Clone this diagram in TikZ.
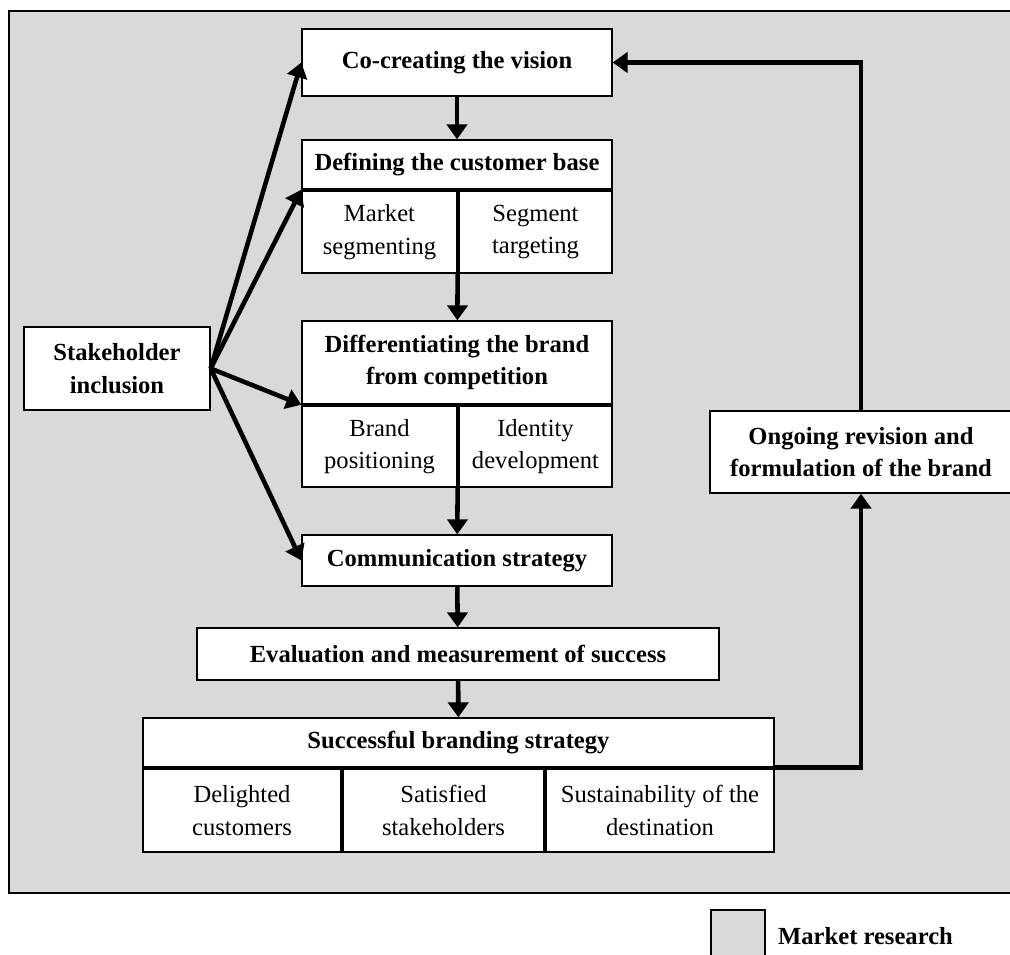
\documentclass[tikz,border=0pt]{standalone}
\usepackage{fontspec}
\setmainfont{Liberation Serif}
\usepackage{tikz}
\usetikzlibrary{arrows.meta}
\definecolor{research}{HTML}{D9D9D9}
\tikzstyle{box} =[draw, fill=white, line width=0.8pt, inner sep=0pt, align=center, font=\fontsize{14}{18.5}\selectfont]
\tikzstyle{head} =[box, font=\fontsize{14}{18.5}\selectfont\bfseries]
\tikzstyle{arrow} =[-{Triangle[length=8.5pt, width=11.5pt]}, line width=2.6pt]

\begin{document}
\begin{tikzpicture}[x=0.02cm, y=-0.02cm]
		\useasboundingbox (0,0) rectangle (1010,954);
		\draw[fill=research, line width=1.2pt] (9,11) rectangle (1014,893);
		% main column
		\node (cre)[head, minimum width=6.2cm, minimum height=1.34cm] at (457,62.5) {Co-creating the vision};
		\node (dfn)[head, minimum width=6.2cm, minimum height=0.98cm] at (457,164.5) {Defining the customer base};
		\node (msg)[box, minimum width=3.1cm, minimum height=1.64cm] at (379.5,232) {Market\\segmenting};
		\node (tgt)[box, minimum width=3.06cm, minimum height=1.64cm] at (535.5,232) {Segment\\targeting};
		\node (dif)[head, minimum width=6.2cm, minimum height=1.66cm] at (457,362.5) {Differentiating the brand\\from competition};
		\node (pos)[box, minimum width=3.1cm, minimum height=1.62cm] at (379.5,446.5) {Brand\\positioning};
		\node (idn)[box, minimum width=3.06cm, minimum height=1.62cm] at (535.5,446.5) {Identity\\development};
		\node (com)[head, minimum width=6.2cm, minimum height=1.02cm] at (457,560.5) {Communication strategy};
		\node (eva)[head, minimum width=10.44cm, minimum height=1.04cm] at (458,654) {Evaluation and measurement of success};
		\node (suc)[head, minimum width=12.62cm, minimum height=0.98cm] at (458.5,742.5) {Successful branding strategy};
		\node (dlg)[box, minimum width=3.96cm, minimum height=1.66cm] at (242,810.5) {Delighted\\customers};
		\node (sat)[box, minimum width=4.02cm, minimum height=1.66cm] at (443.5,810.5) {Satisfied\\stakeholders};
		\node (sus)[box, minimum width=4.56cm, minimum height=1.66cm] at (660,810.5) {Sustainability of the\\destination};
		% side boxes
		\node (stk)[head, minimum width=3.72cm, minimum height=1.66cm] at (117,368.5) {Stakeholder\\inclusion};
		\node (ong)[head, minimum width=6.04cm, minimum height=1.64cm] at (861,452) {Ongoing revision and\\formulation of the brand};
		% legend
		\node (key)[draw, fill=research, line width=0.8pt, minimum width=1.08cm, minimum height=1.2cm] at (738,940) {};
		\node (keytext)[anchor=west, font=\fontsize{14}{18.5}\selectfont\bfseries] at (772,936) {Market research};

		\draw[arrow] (cre) -- (dfn);
		\draw[arrow] (msg.south east) -- (dif);
		\draw[arrow] (pos.south east) -- (com);
		\draw[arrow] (com) -- (eva);
		\draw[arrow] (eva) -- (suc);
		\draw[arrow] (stk.east) -- (cre.west);
		\draw[arrow] (stk.east) -- (dfn.south west);
		\draw[arrow] (stk.east) -- (dif.south west);
		\draw[arrow] (stk.east) -- (com.west);
		\draw[arrow] (suc.south east) -| (ong.south);
		\draw[arrow] (ong.north) |- (cre.east);
\end{tikzpicture}
\end{document}
